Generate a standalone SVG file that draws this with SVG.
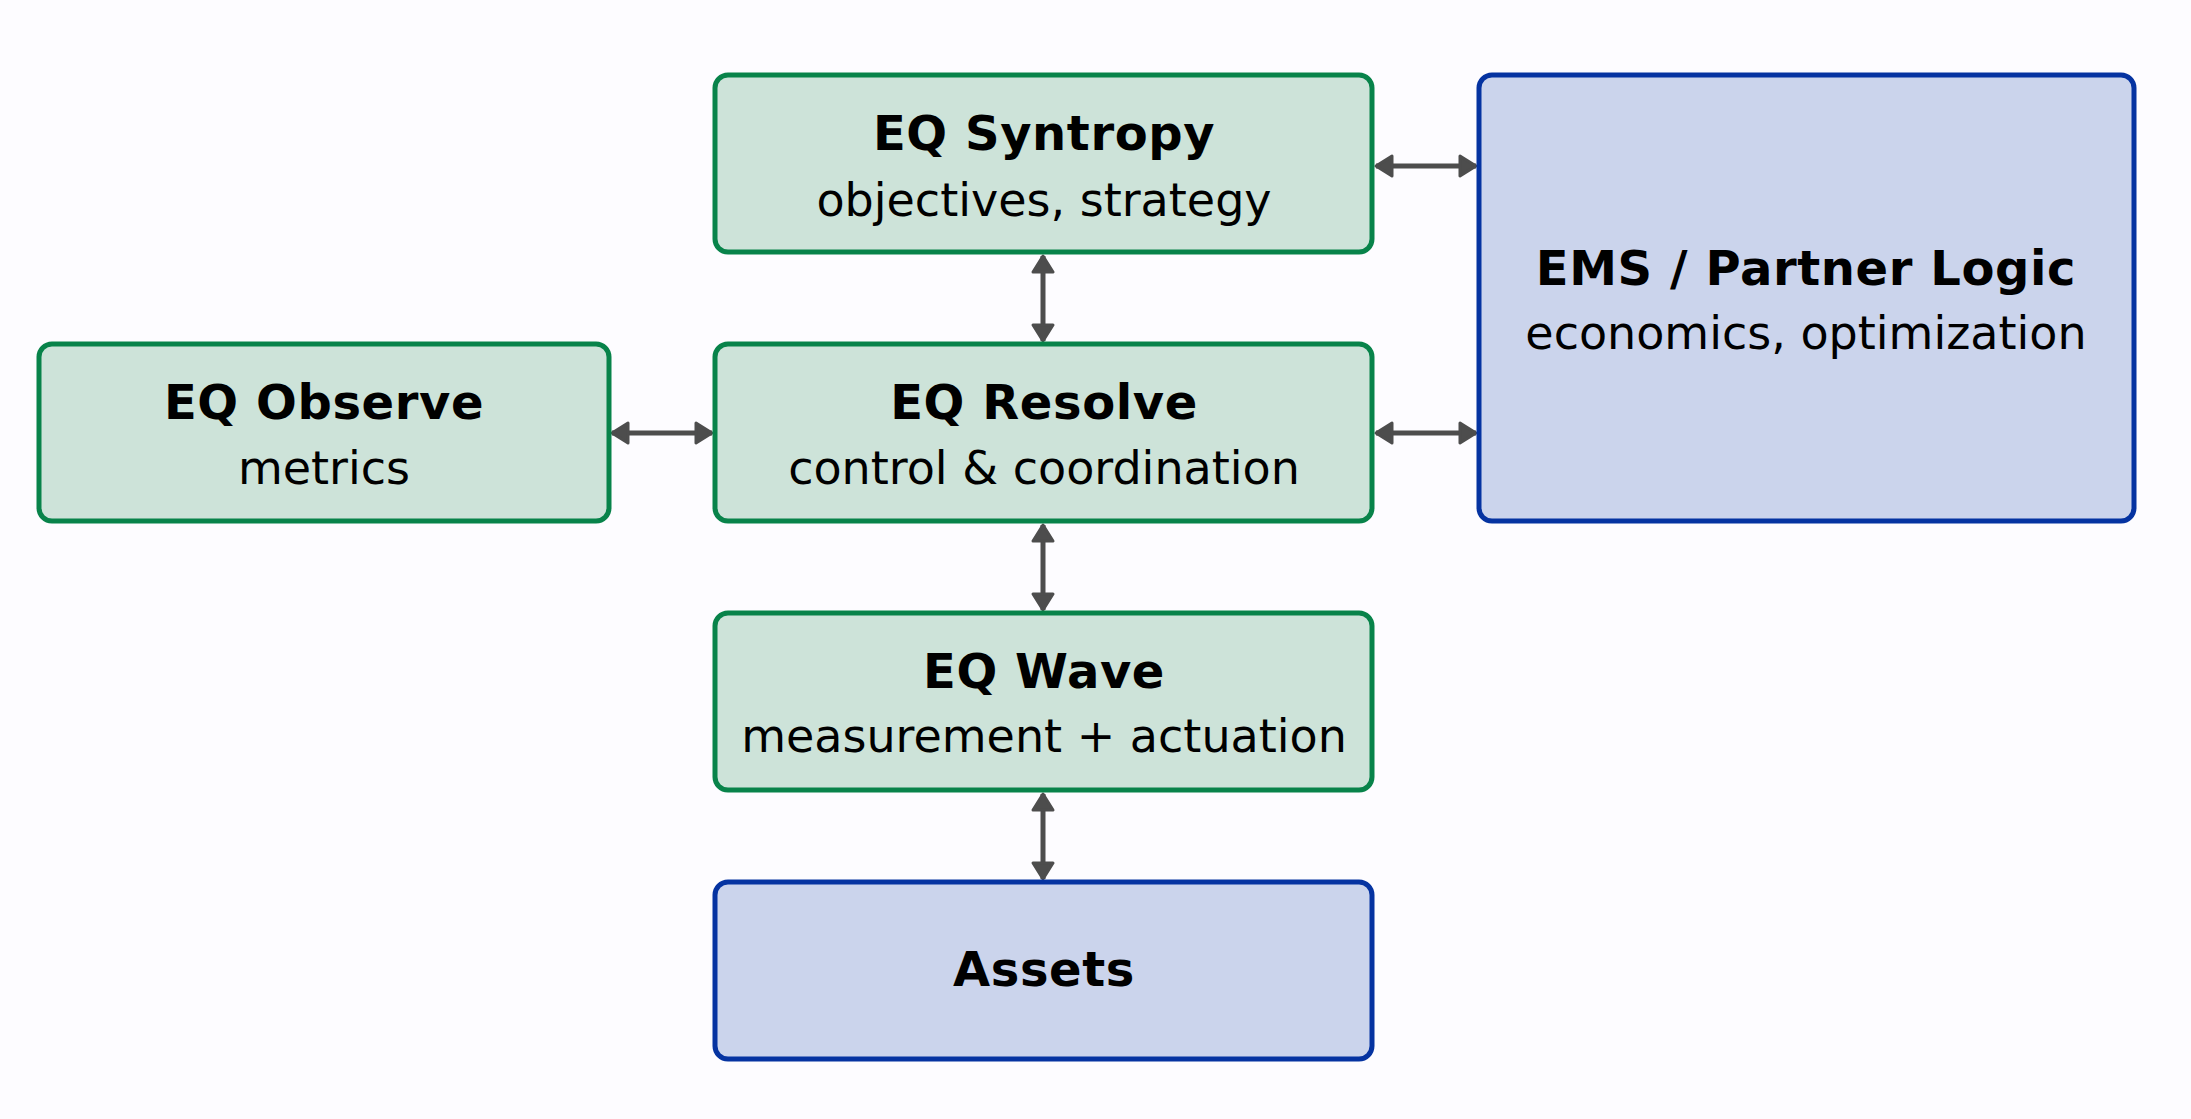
<svg xmlns="http://www.w3.org/2000/svg" width="2191" height="1119" viewBox="0 0 2191 1119">
<style>
.bg{fill:#fdfcff}
.g{fill:#cde3d9;stroke:#08834a;stroke-width:5}
.b{fill:#cbd4ec;stroke:#0533a1;stroke-width:5}
.t{font-family:"DejaVu Sans","Liberation Sans",sans-serif;font-weight:bold;font-size:48px;letter-spacing:0.6px;fill:#000;text-anchor:middle}
.s{font-family:"DejaVu Sans","Liberation Sans",sans-serif;font-size:46px;fill:#000;text-anchor:middle}
.c{stroke:#4d4d4d;stroke-width:5;fill:none;marker-start:url(#ah);marker-end:url(#ah)}
</style>
<defs>
<marker id="ah" markerUnits="userSpaceOnUse" markerWidth="24" markerHeight="28" refX="19" refY="12" orient="auto-start-reverse" viewBox="0 0 24 28">
<path d="M3,2 L19,12 L3,22 Z" fill="#4d4d4d" stroke="#4d4d4d" stroke-width="3" stroke-linejoin="round"/>
</marker>
</defs>
<rect class="bg" x="0" y="0" width="2191" height="1119"/>
<g id="connectors">
<line class="c" x1="1043" y1="256" x2="1043" y2="341"/>
<line class="c" x1="1043" y1="525" x2="1043" y2="610"/>
<line class="c" x1="1043" y1="794" x2="1043" y2="879"/>
<line class="c" x1="612" y1="433" x2="712" y2="433"/>
<line class="c" x1="1376" y1="166" x2="1476" y2="166"/>
<line class="c" x1="1376" y1="433" x2="1476" y2="433"/>
</g>
<g id="syntropy">
<rect class="g" x="715" y="75" width="657" height="177" rx="13"/>
<text class="t" x="1044" y="150">EQ Syntropy</text>
<text class="s" x="1044" y="216">objectives, strategy</text>
</g>
<g id="resolve">
<rect class="g" x="715" y="344" width="657" height="177" rx="13"/>
<text class="t" x="1044" y="419">EQ Resolve</text>
<text class="s" x="1044" y="484">control &amp; coordination</text>
</g>
<g id="wave">
<rect class="g" x="715" y="613" width="657" height="177" rx="13"/>
<text class="t" x="1044" y="688">EQ Wave</text>
<text class="s" x="1044" y="752">measurement + actuation</text>
</g>
<g id="assets">
<rect class="b" x="715" y="882" width="657" height="177" rx="13"/>
<text class="t" x="1044" y="986">Assets</text>
</g>
<g id="observe">
<rect class="g" x="39" y="344" width="570" height="177" rx="13"/>
<text class="t" x="324" y="419">EQ Observe</text>
<text class="s" x="324" y="484">metrics</text>
</g>
<g id="ems">
<rect class="b" x="1479" y="75" width="655" height="446" rx="13"/>
<text class="t" x="1806" y="285">EMS / Partner Logic</text>
<text class="s" x="1806" y="349">economics, optimization</text>
</g>
</svg>
